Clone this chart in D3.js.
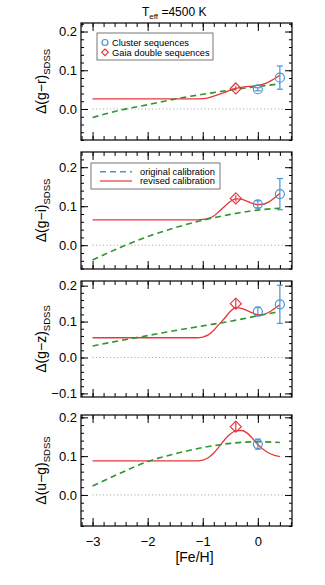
<!DOCTYPE html>
<html>
<head>
<meta charset="utf-8">
<script src="https://cdn.jsdelivr.net/npm/d3@7"></script>
<style>
  body { margin: 0; background: #fff; }
  svg { display: block; font-family: "Liberation Sans", Arial, sans-serif; }
</style>
</head>
<body>
<svg id="chart" width="325" height="585"></svg>
<script>
"use strict";

// [Fe/H] grid of the original calibration curves
var fehOrig = [-3, -2.5, -2, -1.5, -1, -0.5, 0, 0.4];
var origGR = [-0.022, -0.003, 0.011, 0.026, 0.038, 0.049, 0.058, 0.065];
var origGI = [-0.038, -0.006, 0.022, 0.045, 0.064, 0.079, 0.090, 0.095];
var origGZ = [0.032, 0.047, 0.061, 0.075, 0.088, 0.101, 0.116, 0.128];
var origUG = [0.023, 0.056, 0.086, 0.106, 0.122, 0.133, 0.137, 0.135];

// [Fe/H] grid of the revised calibration curves
var fehRev = [-3, -2, -1.1, -1.0, -0.9, -0.8, -0.7, -0.6, -0.5, -0.4,
  -0.3, -0.2, -0.1, 0, 0.1, 0.2, 0.3, 0.4];
var revGR = [0.026, 0.026, 0.026, 0.027, 0.029, 0.033, 0.038, 0.043, 0.049, 0.053,
  0.056, 0.058, 0.059, 0.061, 0.064, 0.070, 0.078, 0.087];
var revGI = [0.065, 0.065, 0.065, 0.066, 0.069, 0.075, 0.087, 0.100, 0.112, 0.119,
  0.118, 0.113, 0.107, 0.104, 0.105, 0.111, 0.121, 0.133];
var revGZ = [0.055, 0.055, 0.055, 0.057, 0.063, 0.076, 0.093, 0.110, 0.128, 0.139,
  0.137, 0.131, 0.124, 0.119, 0.120, 0.126, 0.136, 0.147];
var revUG = [0.088, 0.088, 0.088, 0.090, 0.096, 0.108, 0.125, 0.143, 0.157, 0.165,
  0.166, 0.160, 0.146, 0.130, 0.117, 0.108, 0.102, 0.099];

// cluster sequences (blue circles)
var clusterFeh = [0, 0.4];
var clusterGR = [0.051, 0.081], clusterGRerr = [0.004, 0.030];
var clusterGI = [0.105, 0.131], clusterGIerr = [0.009, 0.040];
var clusterGZ = [0.128, 0.148], clusterGZerr = [0.012, 0.053];
var clusterUG = [0.131], clusterUGerr = [0.013];

// Gaia double sequences (red diamonds)
var gaiaFeh = [-0.4];
var gaiaGR = [0.053], gaiaGRerr = [0.006];
var gaiaGI = [0.120], gaiaGIerr = [0.008];
var gaiaGZ = [0.150], gaiaGZerr = [0.012];
var gaiaUG = [0.176], gaiaUGerr = [0.013];

var xTicks = [-3, -2, -1, 0];

var RED = "#e8363b",
  GREEN = "#2e962e",
  BLUE = "#4b93d6";

var svg = d3.select("#chart"),
  left = 81,
  right = 292,
  x = d3.scaleLinear().domain([-3.21, 0.62]).range([left, right]);

var panels = [
  { top: 23, bottom: 140, dom: [-0.08, 0.222], color: "g\u2212r",
    orig: origGR, rev: revGR, cl: clusterGR, clErr: clusterGRerr, ga: gaiaGR, gaErr: gaiaGRerr },
  { top: 152, bottom: 269, dom: [-0.061, 0.239], color: "g\u2212i",
    orig: origGI, rev: revGI, cl: clusterGI, clErr: clusterGIerr, ga: gaiaGI, gaErr: gaiaGIerr },
  { top: 281, bottom: 397, dom: [-0.11, 0.213], color: "g\u2212z",
    orig: origGZ, rev: revGZ, cl: clusterGZ, clErr: clusterGZerr, ga: gaiaGZ, gaErr: gaiaGZerr },
  { top: 415, bottom: 526, dom: [-0.08, 0.206], color: "u\u2212g",
    orig: origUG, rev: revUG, cl: clusterUG, clErr: clusterUGerr, ga: gaiaUG, gaErr: gaiaUGerr }
];

var fmtY = function (d) {
  return (Math.abs(d) < 1e-9 ? "0.0" : d3.format(".1f")(d)).replace("-", "\u2212");
};

var stepValues = function (lo, hi, step) {
  var out = [], i;
  for (i = Math.ceil(lo / step - 1e-6); i * step <= hi + 1e-9; i++) {
    out.push(+(i * step).toFixed(4));
  }
  return out;
};

var diamond = function (cx, cy, r) {
  return "M" + cx + "," + (cy - r) + "L" + (cx + r) + "," + cy +
    "L" + cx + "," + (cy + r) + "L" + (cx - r) + "," + cy + "Z";
};

// title
var title = svg.append("text")
  .attr("x", 142).attr("y", 16)
  .attr("font-size", 12);
title.append("tspan").text("T");
title.append("tspan").attr("font-size", 8).attr("dy", 3).text("eff");
title.append("tspan").attr("dy", -3).text(" =4500 K");

panels.forEach(function (p, idx) {
  var y = d3.scaleLinear().domain(p.dom).range([p.bottom, p.top]),
    g = svg.append("g"),
    yMajor = stepValues(p.dom[0], p.dom[1], 0.1),
    yMinor = stepValues(p.dom[0], p.dom[1], 0.02),
    xMinor = stepValues(-3.2, 0.6, 0.2),
    line = d3.line().curve(d3.curveMonotoneX);

  // ticks: minor then major on all four sides
  var addTicks = function (axis, translate) {
    var a = g.append("g").attr("transform", translate).call(axis);
    a.select(".domain").remove();
    a.selectAll("line").attr("stroke", "#000").attr("stroke-width", 1);
    return a;
  };
  addTicks(d3.axisLeft(y).tickValues(yMinor).tickSize(-3).tickFormat(""),
    "translate(" + left + ",0)");
  addTicks(d3.axisRight(y).tickValues(yMinor).tickSize(-3).tickFormat(""),
    "translate(" + right + ",0)");
  var yl = addTicks(d3.axisLeft(y).tickValues(yMajor).tickSize(-7).tickPadding(4).tickFormat(fmtY),
    "translate(" + left + ",0)");
  yl.selectAll("text").attr("font-size", 13).attr("fill", "#000")
    .attr("font-family", "Liberation Sans, Arial, sans-serif");
  addTicks(d3.axisRight(y).tickValues(yMajor).tickSize(-7).tickFormat(""),
    "translate(" + right + ",0)");

  addTicks(d3.axisBottom(x).tickValues(xMinor).tickSize(-4).tickFormat(""),
    "translate(0," + p.bottom + ")");
  addTicks(d3.axisTop(x).tickValues(xMinor).tickSize(-4).tickFormat(""),
    "translate(0," + p.top + ")");
  var xl = addTicks(d3.axisBottom(x).tickValues(xTicks).tickSize(-8).tickPadding(11)
      .tickFormat(idx === panels.length - 1 ? function (d) {
        return String(d).replace("-", "\u2212");
      } : ""),
    "translate(0," + p.bottom + ")");
  xl.selectAll("text").attr("font-size", 13).attr("fill", "#000")
    .attr("font-family", "Liberation Sans, Arial, sans-serif");
  addTicks(d3.axisTop(x).tickValues(xTicks).tickSize(-8).tickFormat(""),
    "translate(0," + p.top + ")");

  // frame
  g.append("rect")
    .attr("x", left).attr("y", p.top)
    .attr("width", right - left).attr("height", p.bottom - p.top)
    .attr("fill", "none").attr("stroke", "#000").attr("stroke-width", 1.2);

  // zero line
  g.append("line")
    .attr("x1", x(-3)).attr("x2", x(0.45))
    .attr("y1", y(0)).attr("y2", y(0))
    .attr("stroke", "#888").attr("stroke-width", 0.8)
    .attr("stroke-dasharray", "1,2.5");

  // curves
  g.append("path")
    .attr("d", line(fehRev.map(function (f, i) { return [x(f), y(p.rev[i])]; })))
    .attr("fill", "none").attr("stroke", RED).attr("stroke-width", 1.3);
  g.append("path")
    .attr("d", line(fehOrig.map(function (f, i) { return [x(f), y(p.orig[i])]; })))
    .attr("fill", "none").attr("stroke", GREEN).attr("stroke-width", 1.6)
    .attr("stroke-dasharray", "6,4");

  // Gaia diamonds
  gaiaFeh.forEach(function (f, i) {
    var cx = x(f), cy = y(p.ga[i]);
    g.append("line")
      .attr("x1", cx).attr("x2", cx)
      .attr("y1", y(p.ga[i] - p.gaErr[i])).attr("y2", y(p.ga[i] + p.gaErr[i]))
      .attr("stroke", RED).attr("stroke-width", 1.2);
    g.append("path").attr("d", diamond(cx, cy, 5.5))
      .attr("fill", "none").attr("stroke", RED).attr("stroke-width", 1.2);
  });

  // cluster circles
  p.cl.forEach(function (v, i) {
    var cx = x(clusterFeh[i]), cy = y(v),
      y1 = y(v - p.clErr[i]), y2 = y(v + p.clErr[i]);
    g.append("line").attr("x1", cx).attr("x2", cx).attr("y1", y1).attr("y2", y2)
      .attr("stroke", BLUE).attr("stroke-width", 1.2);
    [y1, y2].forEach(function (yy) {
      g.append("line").attr("x1", cx - 3).attr("x2", cx + 3).attr("y1", yy).attr("y2", yy)
        .attr("stroke", BLUE).attr("stroke-width", 1.2);
    });
    g.append("circle").attr("cx", cx).attr("cy", cy).attr("r", 4.5)
      .attr("fill", "none").attr("stroke", BLUE).attr("stroke-width", 1.2);
  });

  // y label
  var yc = (p.top + p.bottom) / 2,
    lab = svg.append("text")
      .attr("transform", "translate(46," + yc + ") rotate(-90)")
      .attr("text-anchor", "middle")
      .attr("font-size", 14);
  lab.append("tspan").text("\u0394(" + p.color + ")");
  lab.append("tspan").attr("font-size", 9.5).attr("dy", 4).text("SDSS");
});

// legend in panel 1
var leg1 = svg.append("g");
leg1.append("rect").attr("x", 97).attr("y", 33).attr("width", 116).attr("height", 27)
  .attr("fill", "#fff").attr("stroke", "#555").attr("stroke-width", 0.8);
leg1.append("circle").attr("cx", 105).attr("cy", 42.5).attr("r", 3)
  .attr("fill", "none").attr("stroke", BLUE).attr("stroke-width", 1.2);
leg1.append("path").attr("d", diamond(105, 52.3, 3.3))
  .attr("fill", "none").attr("stroke", RED).attr("stroke-width", 1.2);
leg1.append("text").attr("x", 112).attr("y", 45.8).attr("font-size", 9.3)
  .text("Cluster sequences");
leg1.append("text").attr("x", 112).attr("y", 55.6).attr("font-size", 9.3)
  .text("Gaia double sequences");

// legend in panel 2
var leg2 = svg.append("g");
leg2.append("rect").attr("x", 91).attr("y", 163).attr("width", 129).attr("height", 26)
  .attr("fill", "#fff").attr("stroke", "#555").attr("stroke-width", 0.8);
leg2.append("line").attr("x1", 100).attr("x2", 132).attr("y1", 171.7).attr("y2", 171.7)
  .attr("stroke", BLUE).attr("stroke-width", 1.5).attr("stroke-dasharray", "6,4");
leg2.append("line").attr("x1", 100).attr("x2", 132).attr("y1", 181).attr("y2", 181)
  .attr("stroke", RED).attr("stroke-width", 1.2);
leg2.append("text").attr("x", 140).attr("y", 174.8).attr("font-size", 9.3)
  .text("original calibration");
leg2.append("text").attr("x", 140).attr("y", 184.2).attr("font-size", 9.3)
  .text("revised calibration");

// x label
svg.append("text").attr("x", x(-1.15)).attr("y", 562)
  .attr("text-anchor", "middle").attr("font-size", 14)
  .text("[Fe/H]");
</script>
</body>
</html>
